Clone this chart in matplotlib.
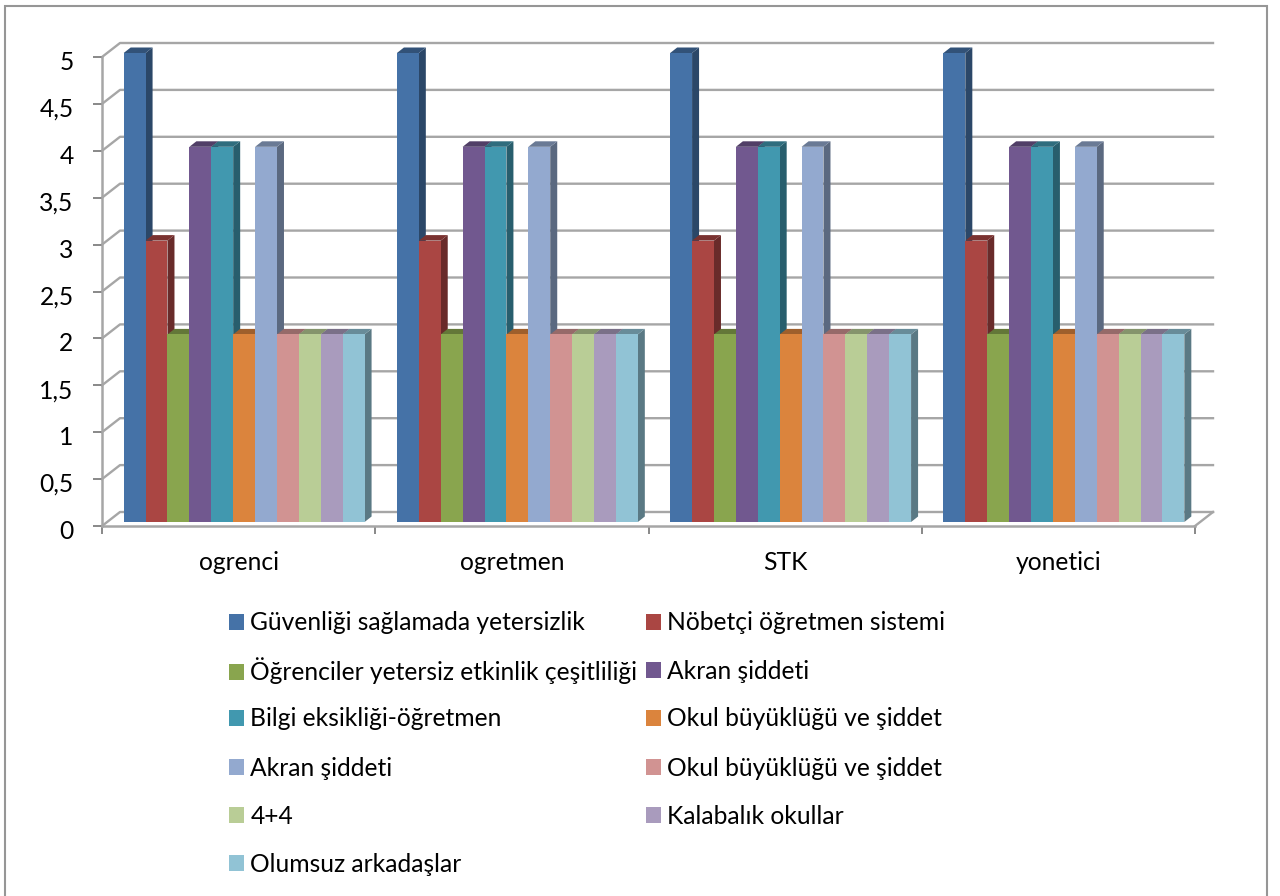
# -*- coding: utf-8 -*-
import matplotlib
matplotlib.use('Agg')
import matplotlib.pyplot as plt
from matplotlib.colors import to_rgb
from matplotlib.patches import Polygon, Rectangle
from matplotlib.transforms import ScaledTranslation

plt.rcParams['font.family'] = ['Lato', 'DejaVu Sans']

# --- Data --------------------------------------------------------------------
lCat = ['ogrenci', 'ogretmen', 'STK', 'yonetici']
lSer = ['Güvenliği sağlamada yetersizlik', 'Nöbetçi öğretmen sistemi',
        'Öğrenciler yetersiz etkinlik çeşitliliği', 'Akran şiddeti',
        'Bilgi eksikliği-öğretmen', 'Okul büyüklüğü ve şiddet',
        'Akran şiddeti', 'Okul büyüklüğü ve şiddet', '4+4',
        'Kalabalık okullar', 'Olumsuz arkadaşlar']
lVal = [5, 3, 2, 4, 4, 2, 4, 2, 2, 2, 2]
lCol = ['#4572A7', '#AA4643', '#89A54E', '#71588F', '#4198AF', '#DB843D',
        '#93A9CF', '#D19392', '#B9CD96', '#A99BBD', '#91C3D5']
lYTck = [0, 0.5, 1, 1.5, 2, 2.5, 3, 3.5, 4, 4.5, 5]
lYLbl = ['0', '0,5', '1', '1,5', '2', '2,5', '3', '3,5', '4', '4,5', '5']

# --- Layout (pixels of the 1280x896 figure) ----------------------------------
W, H = 1280, 896
X0, X1, Y0, Y5 = 102, 1195, 526, 57
pxX = len(lCat) / (X1 - X0)
pxY = 5 / (Y0 - Y5)
wdBar = 21.9 * pxX
dXBar, dYBar = 5.5 * pxX, 4 * pxY      # front face shift from the axis plane
dXSd, dYSd = 7 * pxX, 5.5 * pxY        # depth of one bar
dXBk, dYBk = 18 * pxX, 14 * pxY        # depth of the back wall
colGrid = '#A6A6A6'
szFnt = 17.7

def shade(col, f):
    return tuple(c * f for c in to_rgb(col))

cFig = plt.figure(figsize=(W / 100, H / 100), dpi=100)
# the frame runs off the bottom of the picture
cFig.add_artist(Rectangle((5 / W, -10 / H), 1262 / W, (H + 10 - 6) / H,
                          transform=cFig.transFigure, fc='white',
                          ec='#969696', lw=1.5, zorder=-1))
cAx = cFig.add_axes([X0 / W, 1 - Y0 / H, (X1 - X0) / W, (Y0 - Y5) / H])
cAx.patch.set_alpha(0)
cAx.set_xlim(0, len(lCat))
cAx.set_ylim(0, 5)
for cS in ['top', 'right']:
    cAx.spines[cS].set_visible(False)
for cS in ['left', 'bottom']:
    cAx.spines[cS].set_color(colGrid)
    cAx.spines[cS].set_linewidth(1.8)

# --- Walls -------------------------------------------------------------------
for cV in lYTck:
    cAx.plot([0, dXBk, len(lCat) + dXBk], [cV, cV + dYBk, cV + dYBk],
             color=colGrid, lw=1.7, clip_on=False, zorder=1)
cAx.plot([len(lCat), len(lCat) + dXBk], [0, dYBk], color=colGrid, lw=1.7,
         clip_on=False, zorder=1)

# --- Bars --------------------------------------------------------------------
lHnd = [None] * len(lSer)
for iC in range(len(lCat)):
    xL = iC + 0.5 - wdBar * len(lSer) / 2 + dXBar
    for iS, cV in enumerate(lVal):
        cX = xL + iS * wdBar
        cZ = 3 + iS * 0.01
        lB = cAx.bar(cX, cV, width=wdBar, bottom=dYBar, align='edge',
                     color=lCol[iS], lw=0, zorder=cZ + 0.002, clip_on=False,
                     label=lSer[iS])
        yT = cV + dYBar
        cAx.add_patch(Polygon([(cX + wdBar, dYBar), (cX + wdBar, yT),
                               (cX + wdBar + dXSd, yT + dYSd),
                               (cX + wdBar + dXSd, dYBar + dYSd)],
                              fc=shade(lCol[iS], 0.62), ec='none',
                              zorder=cZ, clip_on=False))
        cAx.add_patch(Polygon([(cX, yT), (cX + wdBar, yT),
                               (cX + wdBar + dXSd, yT + dYSd),
                               (cX + dXSd, yT + dYSd)],
                              fc=shade(lCol[iS], 0.72), ec='none',
                              zorder=cZ, clip_on=False))
        lHnd[iS] = lB[0]

# --- Axes text ---------------------------------------------------------------
cAx.set_yticks(lYTck)
cAx.set_yticklabels(lYLbl)
cAx.set_xticks(range(len(lCat) + 1))
cAx.set_xticklabels([])
cAx.set_xticks([i + 0.5 for i in range(len(lCat))], minor=True)
cAx.set_xticklabels(lCat, minor=True)
cAx.tick_params(axis='y', length=6.5, width=1.3, color='#7F7F7F', pad=14,
                labelsize=szFnt)
cAx.tick_params(axis='x', which='major', length=6, width=1.3, color='#7F7F7F')
cAx.tick_params(axis='x', which='minor', length=0, pad=18, labelsize=szFnt)
oLbl = ScaledTranslation(0, -2.5 / 72, cFig.dpi_scale_trans)
for cL in cAx.get_yticklabels():
    cL.set_transform(cL.get_transform() + oLbl)

# --- Legend (one per entry so that both columns stay on the same rows) -------
lXLeg = [229, 646]
lYLeg = [623, 671, 719, 768, 816, 864]
for iS in range(len(lSer)):
    cFig.legend([lHnd[iS]], [lSer[iS]], loc='center left',
                bbox_to_anchor=(lXLeg[iS % 2] / W, 1 - lYLeg[iS // 2] / H),
                frameon=False, fontsize=szFnt, handlelength=0.62,
                handleheight=0.62, handletextpad=0.25, borderpad=0,
                borderaxespad=0)

cFig.savefig('out.png', dpi=100)
plt.close()
